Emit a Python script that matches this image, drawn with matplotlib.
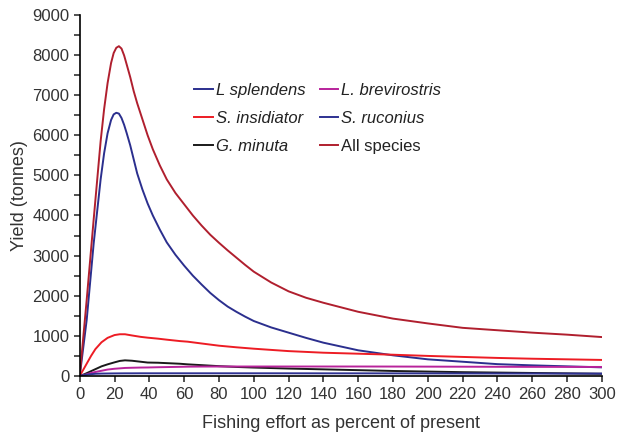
import matplotlib
matplotlib.use("Agg")
import matplotlib.pyplot as plt
from matplotlib.ticker import MultipleLocator

plt.rcParams['font.family'] = ['Liberation Sans', 'DejaVu Sans']

# fishing effort (% of present) and yields (tonnes)
effort_peak = [0, 4, 8, 12, 14, 16, 18, 19.5, 21, 22.5, 24, 25.5, 27, 29,
               31, 33, 36, 39, 42, 46, 50, 55, 60, 65, 70, 75, 80, 85, 90,
               95, 100, 110, 120, 130, 140, 160, 180, 200, 220, 240, 260,
               280, 300]
all_species = [0, 1900, 3900, 5850, 6650, 7300, 7800, 8050, 8180, 8220,
               8160, 7990, 7760, 7450, 7100, 6800, 6400, 6000, 5650, 5250,
               4900, 4560, 4280, 4000, 3750, 3520, 3320, 3130, 2950, 2770,
               2600, 2330, 2110, 1950, 1825, 1600, 1430, 1310, 1200, 1140,
               1080, 1030, 970]
l_splendens = [0, 1400, 3300, 4900, 5550, 6050, 6380, 6520, 6560, 6540,
               6430, 6260, 6050, 5750, 5400, 5050, 4650, 4300, 4000, 3650,
               3330, 3020, 2750, 2500, 2280, 2070, 1890, 1730, 1600, 1480,
               1370, 1210, 1080, 950, 830, 640, 515, 415, 355, 295, 265,
               240, 215]

effort = [0, 3, 6.5, 9, 12.5, 16, 20, 23, 26, 30, 35, 39, 45, 50, 57.5, 62,
          70, 80, 90, 100, 120, 140, 160, 180, 200, 220, 240, 260, 280, 300]
s_insidiator = [0, 230, 500, 670, 840, 950, 1020, 1040, 1040, 1010, 975,
                955, 930, 905, 870, 855, 810, 755, 715, 680, 620, 580, 555,
                530, 500, 475, 450, 430, 415, 400]
g_minuta = [0, 50, 120, 170, 240, 290, 340, 375, 390, 380, 355, 335, 330,
            320, 305, 290, 270, 245, 225, 210, 185, 165, 145, 125, 110, 95,
            85, 75, 65, 55]
l_brevirostris = [0, 30, 75, 100, 130, 160, 180, 190, 200, 205, 210, 212,
                  218, 222, 228, 232, 235, 236, 236, 236, 236, 236, 236, 235,
                  233, 231, 229, 227, 226, 225]
s_ruconius = [0, 25, 45, 55, 60, 62, 64, 65, 66, 66, 67, 67, 67, 67, 67,
              67, 67, 67, 67, 67, 67, 66, 66, 65, 64, 63, 62, 61, 60, 60]

fig, ax = plt.subplots(figsize=(6.23, 4.38), dpi=100)
fig.subplots_adjust(left=0.128, right=0.966, bottom=0.1416, top=0.966)

lw = 1.4
h1, = ax.plot(effort_peak, l_splendens, color='#2b2f8e', lw=lw, label='L splendens')
h2, = ax.plot(effort, s_insidiator, color='#ed1c24', lw=lw, label='S. insidiator')
h3, = ax.plot(effort, g_minuta, color='#1a1a1a', lw=lw, label='G. minuta')
h4, = ax.plot(effort, l_brevirostris, color='#b8239b', lw=lw, label='L. brevirostris')
h5, = ax.plot(effort, s_ruconius, color='#2e3192', lw=lw, label='S. ruconius')
h6, = ax.plot(effort_peak, all_species, color='#b01f2e', lw=lw, label='All species')

ax.set_xlim(0, 300)
ax.set_ylim(0, 9000)
ax.xaxis.set_major_locator(MultipleLocator(20))
ax.yaxis.set_major_locator(MultipleLocator(1000))
ax.yaxis.set_minor_locator(MultipleLocator(500))
ax.spines['top'].set_visible(False)
ax.spines['right'].set_visible(False)
for s in ('left', 'bottom'):
    ax.spines[s].set_linewidth(1.2)
ax.tick_params(which='both', direction='out', length=4, width=1.2,
               labelsize=12, colors='#333333')
ax.tick_params(axis='x', pad=4)

ax.set_xlabel('Fishing effort as percent of present', fontsize=13,
              color='#333333', labelpad=9)
ax.set_ylabel('Yield (tonnes)', fontsize=13, color='#333333', labelpad=3)

leg = ax.legend(handles=[h1, h2, h3, h4, h5, h6], ncol=2, frameon=False,
                loc='upper left', bbox_to_anchor=(0.207, 0.829), fontsize=12,
                handlelength=1.1, handletextpad=0.2, columnspacing=0.84,
                labelspacing=0.77, borderaxespad=0)
for t in leg.get_texts():
    t.set_color('#222222')
    if t.get_text() != 'All species':
        t.set_style('italic')

fig.savefig('out.png', dpi=100)
